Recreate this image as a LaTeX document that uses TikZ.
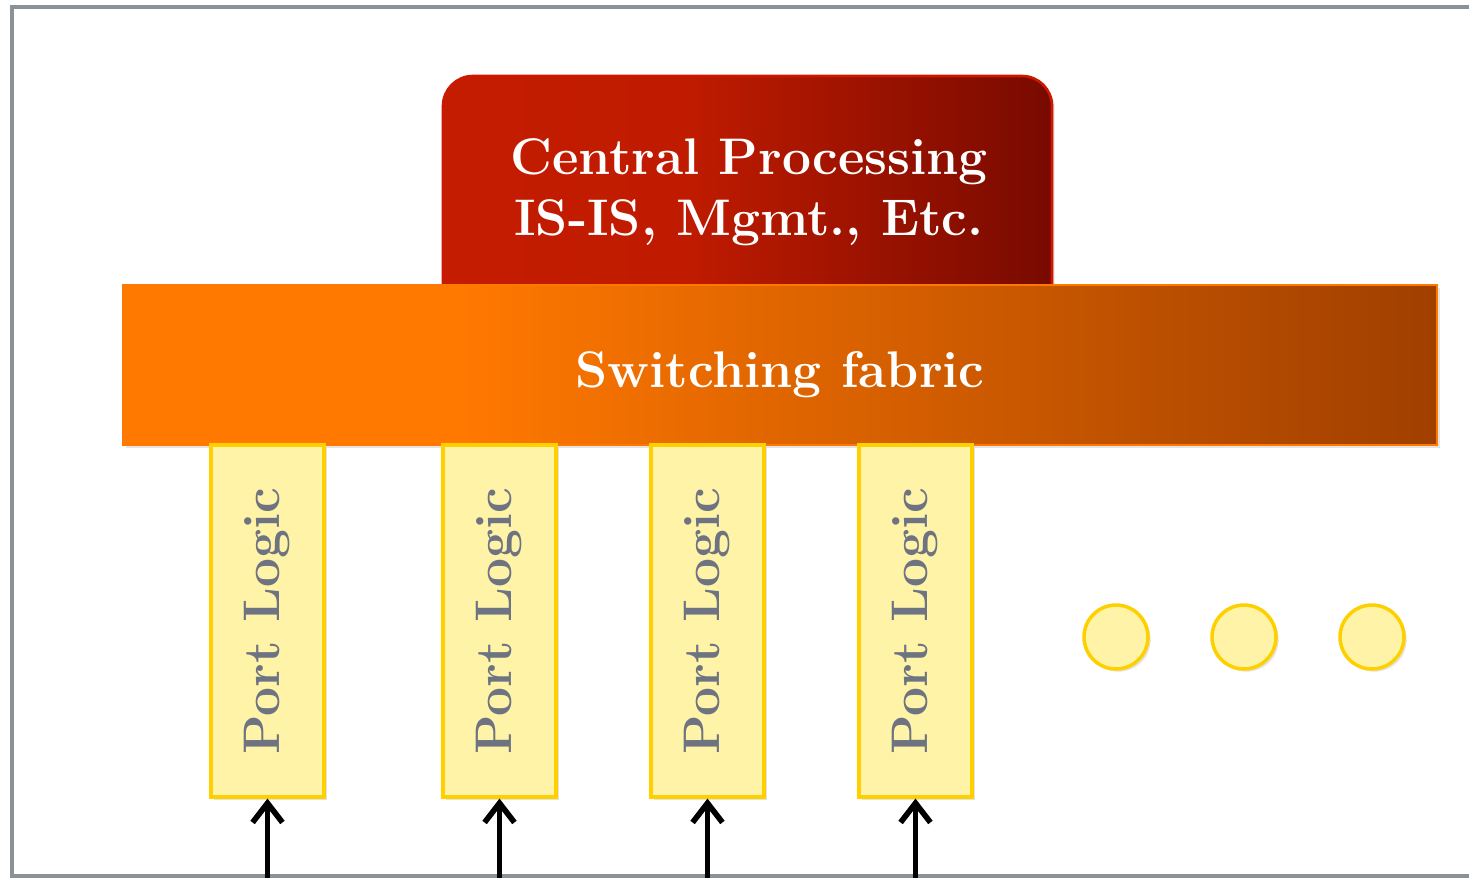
\documentclass[tikz,border=0pt]{standalone}
\usepackage{fontspec}
\usetikzlibrary{arrows.meta,shadows}
\definecolor{cpuA}{HTML}{C41C00}
\definecolor{cpuB}{HTML}{780A00}
\definecolor{fabA}{HTML}{FF7800}
\definecolor{fabB}{HTML}{A03F00}
\definecolor{portfill}{HTML}{FFF3A8}
\definecolor{portline}{HTML}{FFD000}
\definecolor{porttext}{HTML}{6E7382}
\definecolor{framegray}{HTML}{8C9099}
\pgfdeclarehorizontalshading{cpushade}{100bp}{color(0bp)=(cpuA); color(25bp)=(cpuA); color(45bp)=(cpuA!94!cpuB); color(75bp)=(cpuB); color(100bp)=(cpuB)}
\pgfdeclarehorizontalshading{fabshade}{100bp}{color(0bp)=(fabA); color(25bp)=(fabA); color(38bp)=(fabA); color(75bp)=(fabB); color(100bp)=(fabB)}

\begin{document}
\begin{tikzpicture}[x=0.02cm,y=-0.02cm,font=\fontsize{29.3}{34.5}\selectfont\bfseries,
  soft/.style={drop shadow={opacity=0.22,shadow xshift=1.5pt,shadow yshift=-1.5pt}},
  port/.style={draw=portline,line width=1.8pt,fill=portfill,text=porttext,minimum width=2.26cm,minimum height=7.04cm,inner sep=0pt,soft},
  dot/.style={circle,draw=portline,line width=2pt,fill=portfill,minimum size=1.28cm,inner sep=0pt,soft},
  feed/.style={-{Straight Barb[length=11pt,width=17pt]},line width=3.2pt}]
  \useasboundingbox (0,0) rectangle (1469,878);
  % outer frame
  \draw[framegray,line width=2pt] (1480,7) -- (12,7) -- (12,876) -- (1480,876);
  % central processing
  \path[soft,shade,shading=cpushade,draw=cpuA!85!red,line width=1.5pt,rounded corners=0.6cm] (443,330) |- (747,76) -| (1052,330) -- cycle;
  \node[white,align=center] (cpu) at (749,192) {Central Processing\\IS-IS, Mgmt., Etc.};
  % switching fabric
  \node[soft,shade,shading=fabshade,draw=fabA,line width=1.5pt,minimum width=26.28cm,minimum height=3.2cm] (fabric) at (780,365) {};
  \node[white,yshift=-0.2cm] (fabtext) at (fabric.center) {Switching fabric};
  % ports
  \foreach \i/\x in {1/267.5,2/499.5,3/707.5,4/915.5}{
    \node[port] (port\i) at (\x,621) {\rotatebox{90}{Port Logic}};
    \coordinate (in\i) at (\x,878);
    \draw[feed] (in\i) -- (port\i.south);
  }
  \foreach \i/\x in {1/1116,2/1244,3/1372}
    \node[dot] (dot\i) at (\x,637) {};
\end{tikzpicture}
\end{document}
